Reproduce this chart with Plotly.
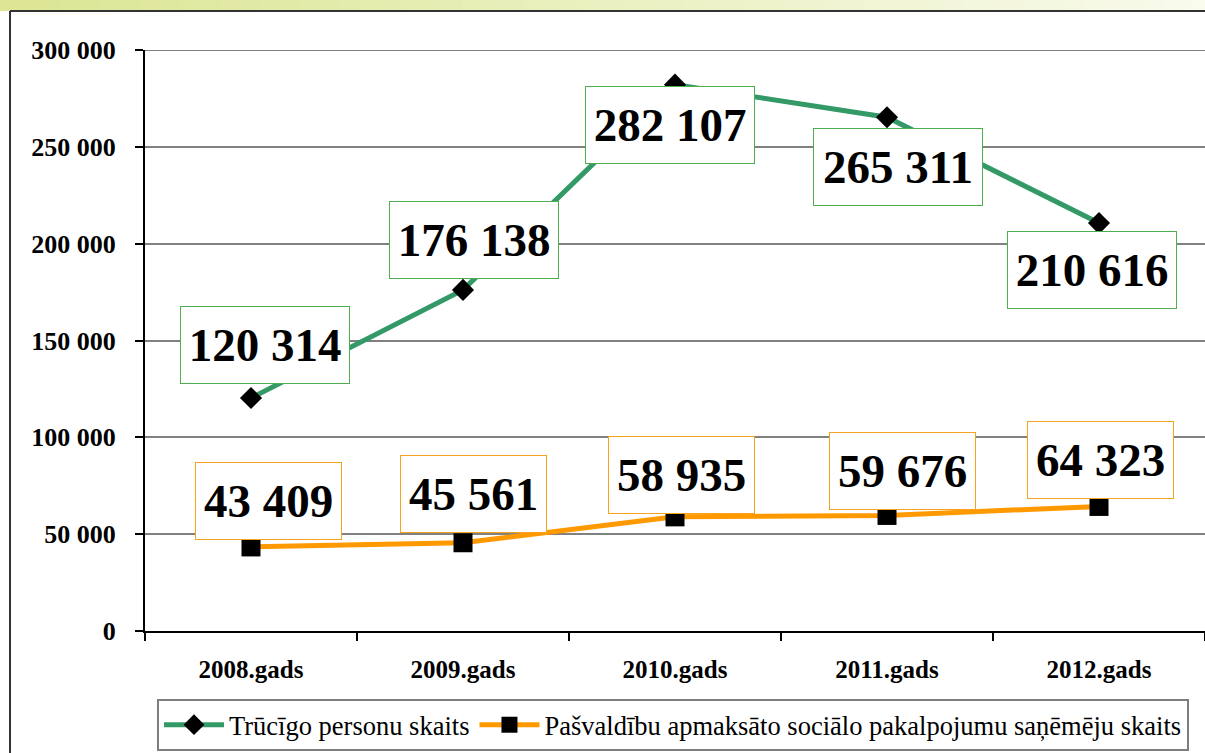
import plotly.graph_objects as go

# ---- data ----
categories = ["2008.gads", "2009.gads", "2010.gads", "2011.gads", "2012.gads"]
series_green_name = "Trūcīgo personu skaits"
series_orange_name = "Pašvaldību apmaksāto sociālo pakalpojumu saņēmēju skaits"
green_values = [120314, 176138, 282107, 265311, 210616]
orange_values = [43409, 45561, 58935, 59676, 64323]
y_ticks = [0, 50000, 100000, 150000, 200000, 250000, 300000]

# ---- label offsets (pixels) ----
green_shift = [(14, 53), (11, 50), (-5, -40), (11, -50), (-7, -47)]
orange_shift = [(17, 46), (10, 49), (6, 42), (15, 44), (1, 46)]

W, H = 1205, 753
L, R, T, B = 145, 0, 50, 122
PW, PH = W - L - R, H - T - B

def px_x(p):
    return (p - L) / PW

def px_y(p):
    return (H - B - p) / PH

GREEN = "#339966"
ORANGE = "#FF9900"
SERIF = "Liberation Serif"

def fmt(v):
    return f"{v:,}".replace(",", " ")

fig = go.Figure()
fig.add_trace(go.Scatter(
    x=categories, y=green_values, name=series_green_name, mode="lines+markers",
    line=dict(color=GREEN, width=5),
    marker=dict(symbol="diamond", size=17, color="black"),
))
fig.add_trace(go.Scatter(
    x=categories, y=orange_values, name=series_orange_name, mode="lines+markers",
    line=dict(color=ORANGE, width=5),
    marker=dict(symbol="square", size=19, color="black"),
))

annotations = []
for c, v, (dx, dy) in zip(categories, green_values, green_shift):
    annotations.append(dict(
        x=c, y=v, xref="x", yref="y", text="<b>" + fmt(v) + "</b>", showarrow=False,
        xshift=dx, yshift=dy, font=dict(family=SERIF, size=47, color="black"),
        bgcolor="white", bordercolor="#4fae4f", borderwidth=1, borderpad=7,
        width=154, height=62,
    ))
for c, v, (dx, dy) in zip(categories, orange_values, orange_shift):
    annotations.append(dict(
        x=c, y=v, xref="x", yref="y", text="<b>" + fmt(v) + "</b>", showarrow=False,
        xshift=dx, yshift=dy, font=dict(family=SERIF, size=47, color="black"),
        bgcolor="white", bordercolor="#F7A21F", borderwidth=1, borderpad=7,
        width=131, height=62,
    ))

shapes = []
# top gradient strip
n = 60
c0 = (0xDC, 0xE6, 0x94)
c1 = (0xF9, 0xFB, 0xEC)
for i in range(n):
    t = i / (n - 1)
    col = tuple(int(c0[k] + (c1[k] - c0[k]) * t) for k in range(3))
    shapes.append(dict(
        type="rect", xref="paper", yref="paper",
        x0=px_x(i * W / n), x1=px_x((i + 1) * W / n + 1),
        y0=px_y(11), y1=px_y(0), line=dict(width=0),
        fillcolor="rgb(%d,%d,%d)" % col, layer="below",
    ))
# frame
shapes.append(dict(type="line", xref="paper", yref="paper",
                   x0=px_x(10), x1=px_x(W + 5), y0=px_y(11), y1=px_y(11),
                   line=dict(color="#333333", width=2)))
shapes.append(dict(type="line", xref="paper", yref="paper",
                   x0=px_x(10), x1=px_x(10), y0=px_y(11), y1=px_y(H + 5),
                   line=dict(color="#333333", width=2)))
# top gridline
shapes.append(dict(type="line", xref="paper", yref="y",
                   x0=0, x1=1, y0=y_ticks[-1], y1=y_ticks[-1],
                   line=dict(color="#808080", width=2), layer="below"))

tick_text = ["<b>" + fmt(v) + "</b>" for v in y_ticks]
cat_text = ["<b>" + c + "</b>" for c in categories]

fig.update_layout(
    width=W, height=H,
    margin=dict(l=L, r=R, t=T, b=B),
    paper_bgcolor="white", plot_bgcolor="white",
    font=dict(family=SERIF, color="black"),
    showlegend=True,
    legend=dict(
        orientation="h", x=px_x(157), y=px_y(751), xanchor="left", yanchor="bottom",
        font=dict(family=SERIF, size=26.5, color="black"),
        bgcolor="white", bordercolor="#7f7f7f", borderwidth=2,
        itemwidth=60, tracegroupgap=0,
    ),
    annotations=annotations,
    shapes=shapes,
    xaxis=dict(
        type="category", range=[-0.5, 4.5],
        tickvals=categories, ticktext=cat_text,
        showline=True, linecolor="black", linewidth=2,
        ticks="outside", tickson="boundaries", ticklen=8, tickcolor="black", tickwidth=2,
        tickfont=dict(family=SERIF, size=25, color="black"),
        ticklabelstandoff=15,
        showgrid=False, zeroline=False,
    ),
    yaxis=dict(
        range=[0, 300000], tickvals=y_ticks, ticktext=tick_text,
        showline=True, linecolor="black", linewidth=2,
        ticks="outside", ticklen=8, tickcolor="black", tickwidth=2,
        tickfont=dict(family=SERIF, size=26, color="black"),
        ticklabelstandoff=14,
        showgrid=True, gridcolor="#808080", gridwidth=2, zeroline=False,
    ),
)

fig.write_html(
    "out.html",
    config={"displayModeBar": False},
    post_script="document.body.style.margin='0';document.body.style.overflow='hidden';",
)
